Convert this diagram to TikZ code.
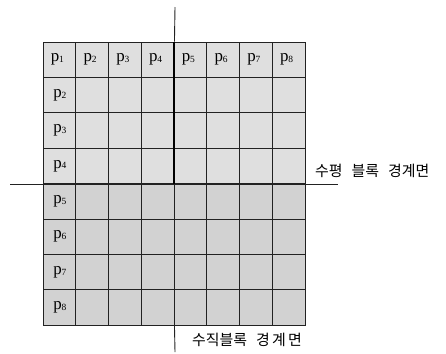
\documentclass[tikz,border=0pt]{standalone}
\usepackage{fontspec}
\setmainfont{Liberation Serif}
\newfontfamily\kofont{Noto Sans CJK KR}
\usepackage{xcolor}
\usepackage{tikz}
\usetikzlibrary{positioning, calc}

\definecolor{upgray}{HTML}{DFDFDF}
\definecolor{lowgray}{HTML}{D2D2D2}
\definecolor{gridline}{HTML}{222222}

\newcommand{\plabel}[1]{p{\fontsize{9.5}{9.5}\selectfont\raisebox{-0.8bp}{#1}}}

\begin{document}
\begin{tikzpicture}[
    x=1bp, y=-1bp,
    cell/.style={rectangle, draw=gridline, line width=0.9bp, minimum width=32.75bp, minimum height=35.4bp, inner sep=0pt},
    plab/.style={font=\fontsize{17}{17}\selectfont, inner sep=0pt},
    boundary/.style={draw=gridline, line width=0.9bp},
    thickbound/.style={draw=black, line width=2bp},
    klabel/.style={font=\kofont\fontsize{15}{15}\selectfont, inner sep=0pt, anchor=west}
]
\useasboundingbox (0,0) rectangle (446,353);

% Cells: upper half light, lower half darker
\foreach \r in {1,...,8}{
  \foreach \c in {1,...,8}{
    \ifnum\r<5 \def\shade{upgray}\else\def\shade{lowgray}\fi
    \node[cell, fill=\shade] (c\r\c) at ({43+32.75*(\c-0.5)},{42+35.4*(\r-0.5)}) {};
  }
}

% Header labels
\foreach \c in {1,...,8}
  \node[plab] (top\c) at ([xshift=-2bp]c1\c) {\plabel{\c}};
\foreach \r in {2,...,8}
  \node[plab] (side\r) at ([xshift=0.5bp]c\r1) {\plabel{\r}};

% Block boundaries
\coordinate (vtop) at (175,7);
\coordinate (vbot) at (175,352);
\coordinate (hleft) at (10,184);
\coordinate (hright) at (338,184);
\draw[boundary] (vtop) -- (c14.north east);
\draw[thickbound] (c14.north east) -- (c44.south east);
\draw[boundary] (c84.south east) -- (vbot);
\draw[boundary] (hleft) -- (hright);

% Boundary labels
\node[klabel] (hlabel) at (315,171) {수평\hspace{0.6em}블록\hspace{0.6em}경계면};
\node[klabel] (vlabel) at (192,340) {수직블록\hspace{0.6em}경\hspace{0.15em}계\hspace{0.15em}면};
\end{tikzpicture}
\end{document}
